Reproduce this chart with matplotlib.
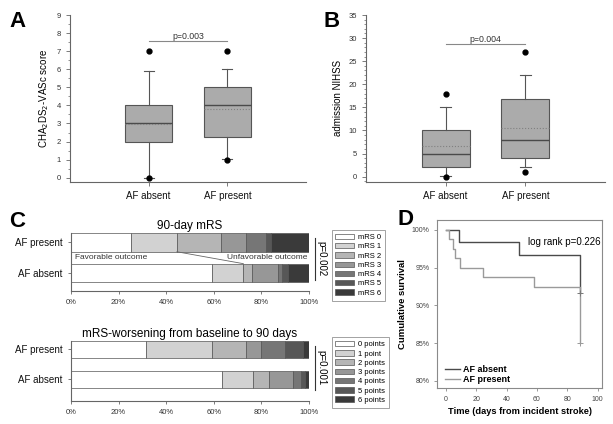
import numpy as np
import matplotlib.pyplot as plt
from matplotlib.ticker import MultipleLocator, FuncFormatter

plt.rcParams['font.family'] = ['Liberation Sans', 'DejaVu Sans']

groups = ['AF absent', 'AF present']

# A: CHA2DS2-VASc (whiskers 10/90th pct, dots 5/95th pct)
cha_lo = [0, 1.05]
cha_q1 = [2, 2.25]
cha_med = [3, 4]
cha_q3 = [4, 5]
cha_hi = [5.9, 6]
cha_mean = [2.95, 3.8]
cha_dots = [[0, 7], [1, 7]]

# B: admission NIHSS
nih_lo = [0.2, 2]
nih_q1 = [2, 4]
nih_med = [5, 8]
nih_q3 = [10, 16.8]
nih_hi = [15, 22]
nih_mean = [6.6, 10.5]
nih_dots = [[0, 18], [1, 27]]

# C: stacked percentages, rows = [AF absent, AF present]
mrs_labels = ['mRS 0', 'mRS 1', 'mRS 2', 'mRS 3', 'mRS 4', 'mRS 5', 'mRS 6']
mrs_absent = [59.4, 13.0, 3.5, 11.2, 1.7, 2.2, 9.0]
mrs_present = [25.2, 19.3, 18.7, 10.5, 8.1, 2.2, 16.0]

wors_labels = ['0 points', '1 point', '2 points', '3 points', '4 points', '5 points', '6 points']
wors_absent = [63.6, 13.0, 6.7, 10.1, 3.1, 1.8, 1.7]
wors_present = [31.4, 27.7, 14.4, 6.5, 10.1, 7.5, 2.4]

shades = ['#ffffff', '#d2d2d2', '#b5b5b5', '#979797', '#767676', '#575757', '#3a3a3a']

# D: Kaplan-Meier
km_absent_t = [0, 8.8, 47.9, 88.2]
km_absent_s = [100, 98.33, 96.67, 91.7]
km_present_t = [0, 2.4, 5.0, 6.1, 9.4, 24.4, 57.8, 88.2]
km_present_s = [100, 98.75, 97.5, 96.25, 95.0, 93.75, 92.5, 85.0]

axc = '#666666'
fig = plt.figure(figsize=(6.13, 4.24), dpi=100)


def box_panel(ax, lo, q1, med, q3, hi, mean, dots, ylab, ptxt, py):
    stats = []
    for i in range(2):
        stats.append(dict(whislo=lo[i], q1=q1[i], med=med[i], q3=q3[i], whishi=hi[i],
                          mean=mean[i], fliers=dots[i], label=groups[i]))
    ax.bxp(stats, positions=[1, 2], widths=0.6, patch_artist=True, showmeans=True,
           meanline=True, capwidths=0.13,
           boxprops=dict(facecolor='#ababab', edgecolor='#555555', linewidth=0.8),
           medianprops=dict(color='#4a4a4a', linewidth=1.0),
           meanprops=dict(color='#808080', linestyle=':', linewidth=0.8),
           whiskerprops=dict(color='#555555', linewidth=0.8),
           capprops=dict(color='#555555', linewidth=0.8),
           flierprops=dict(marker='o', markerfacecolor='black', markeredgecolor='black',
                           markersize=3.5))
    ax.set_xlim(0, 3)
    for s in ['top', 'right']:
        ax.spines[s].set_visible(False)
    for s in ['left', 'bottom']:
        ax.spines[s].set_color(axc)
        ax.spines[s].set_linewidth(0.8)
    ax.tick_params(axis='y', labelsize=5.5, colors=axc, labelcolor='#333333', length=3, width=0.6)
    ax.tick_params(axis='y', which='minor', colors=axc, length=1.5, width=0.5)
    ax.tick_params(axis='x', labelsize=7, colors=axc, labelcolor='#111111', length=3, width=0.6)
    ax.set_ylabel(ylab, fontsize=7)
    ax.plot([1, 2], [py, py], color='#888888', lw=0.8)
    ax.text(1.5, py, ptxt, ha='center', va='bottom', fontsize=6.3, color='#333333')


axA = fig.add_axes([0.1142, 0.5715, 0.385, 0.3931])
box_panel(axA, cha_lo, cha_q1, cha_med, cha_q3, cha_hi, cha_mean, cha_dots,
          'CHA$_2$DS$_2$-VASc score', 'p=0.003', 7.55)
axA.set_ylim(-0.22, 9)
axA.yaxis.set_major_locator(MultipleLocator(1))
axA.yaxis.set_minor_locator(MultipleLocator(0.5))

axB = fig.add_axes([0.597, 0.5715, 0.390, 0.3931])
box_panel(axB, nih_lo, nih_q1, nih_med, nih_q3, nih_hi, nih_mean, nih_dots,
          'admission NIHSS', 'p=0.004', 28.7)
axB.set_ylim(-1.08, 35)
axB.yaxis.set_major_locator(MultipleLocator(5))
axB.yaxis.set_minor_locator(MultipleLocator(1))


def stack_panel(ax, absent, present, labels, title, ptxt, h, legtop):
    rows = [absent, present]
    ypos = [0, 1]
    handles = []
    for k in range(len(labels)):
        left = [sum(r[:k]) for r in rows]
        vals = [r[k] for r in rows]
        bars = ax.barh(ypos, vals, left=left, height=h, color=shades[k],
                       edgecolor='#555555', linewidth=0.5, label=labels[k])
        handles.append(bars)
    ax.set_xlim(0, 100)
    ax.set_yticks(ypos)
    ax.set_yticklabels(groups, fontsize=7)
    ax.xaxis.set_major_locator(MultipleLocator(20))
    ax.xaxis.set_major_formatter(FuncFormatter(lambda v, p: '%d%%' % v))
    ax.tick_params(axis='x', labelsize=5.5, colors=axc, labelcolor='#333333', length=2.5, width=0.6)
    ax.tick_params(axis='y', colors=axc, labelcolor='#111111', length=2.5, width=0.6)
    for s in ['top', 'right']:
        ax.spines[s].set_visible(False)
    for s in ['left', 'bottom']:
        ax.spines[s].set_color(axc)
        ax.spines[s].set_linewidth(0.8)
    ax.set_title(title, fontsize=8.5, pad=3)
    ax.plot([1.026, 1.026], [0.19, 0.92], transform=ax.transAxes, color='#333333',
            lw=0.8, clip_on=False)
    ax.text(1.05, 0.56, ptxt, transform=ax.transAxes, rotation=270, ha='center',
            va='center', fontsize=7)
    leg = ax.legend(handles=handles, loc='upper left', bbox_to_anchor=(0.541, legtop),
                    bbox_transform=fig.transFigure, fontsize=5.5, frameon=True,
                    fancybox=False, edgecolor='#777777', handlelength=2.4,
                    handleheight=0.7, labelspacing=0.25, borderpad=0.5, handletextpad=0.6,
                    borderaxespad=0)
    leg.get_frame().set_linewidth(0.6)


axC1 = fig.add_axes([0.1158, 0.3137, 0.3883, 0.1368])
stack_panel(axC1, mrs_absent, mrs_present, mrs_labels, '90-day mRS', 'p=0.002', 0.61, 0.4575)
axC1.set_ylim(-0.59, 1.31)
# favorable (mRS 0-1) vs unfavorable divider
xa = sum(mrs_absent[:2])
xp = sum(mrs_present[:2])
axC1.plot([xp, xa], [1 - 0.305, 0.305], color='#666666', lw=0.6)
axC1.text(1.5, 0.5, 'Favorable outcome', fontsize=6, color='#333333', va='center')
axC1.text(99.5, 0.5, 'Unfavorable outcome', fontsize=6, color='#333333', va='center', ha='right')

axC2 = fig.add_axes([0.1158, 0.0542, 0.3883, 0.1416])
stack_panel(axC2, wors_absent, wors_present, wors_labels,
            'mRS-worsening from baseline to 90 days', 'p=0.001', 0.57, 0.205)
axC2.set_ylim(-0.72, 1.28)

axD = fig.add_axes([0.7129, 0.0849, 0.2692, 0.3962])
axD.step(km_absent_t, km_absent_s, where='post', color='#4a4a4a', lw=1.0, label='AF absent')
axD.step(km_present_t, km_present_s, where='post', color='#9a9a9a', lw=1.0, label='AF present')
axD.plot([km_absent_t[-1]], [km_absent_s[-1]], marker='+', color='#777777', ms=4, mew=0.7)
axD.plot([km_present_t[-1]], [km_present_s[-1]], marker='+', color='#999999', ms=4, mew=0.7)
axD.set_xlim(-5.7, 102.8)
axD.set_ylim(79.07, 101.3)
axD.xaxis.set_major_locator(MultipleLocator(20))
axD.yaxis.set_major_locator(MultipleLocator(5))
axD.yaxis.set_major_formatter(FuncFormatter(lambda v, p: '%d%%' % v))
axD.tick_params(labelsize=5, colors='#888888', labelcolor='#444444', length=2, width=0.6)
for s in axD.spines.values():
    s.set_color('#8a8a8a')
    s.set_linewidth(0.8)
axD.set_xlabel('Time (days from incident stroke)', fontsize=6.7, fontweight='bold', labelpad=3)
axD.set_ylabel('Cumulative survival', fontsize=6.8, fontweight='bold', labelpad=3)
axD.text(0.55, 0.87, 'log rank p=0.226', transform=axD.transAxes, fontsize=7, va='center')
axD.legend(loc='lower left', bbox_to_anchor=(0.0, -0.025), frameon=False, handlelength=1.6,
           handletextpad=0.4, labelspacing=0.1, prop=dict(weight='bold', size=6.5))

fig.text(0.015, 0.975, 'A', fontsize=16, fontweight='bold', va='top')
fig.text(0.528, 0.975, 'B', fontsize=16, fontweight='bold', va='top')
fig.text(0.015, 0.503, 'C', fontsize=16, fontweight='bold', va='top')
fig.text(0.648, 0.508, 'D', fontsize=16, fontweight='bold', va='top')

fig.savefig('out.png', dpi=100)
